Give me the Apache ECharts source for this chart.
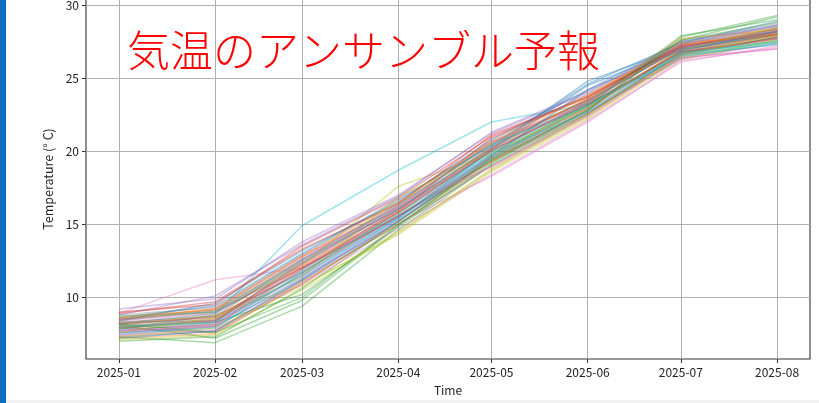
<!DOCTYPE html>
<html>
<head>
<meta charset="utf-8">
<script src="https://cdn.jsdelivr.net/npm/echarts@6/dist/echarts.min.js"></script>
<style>
  html, body { margin: 0; padding: 0; background: #ffffff; }
  #chart { width: 819px; height: 403px; }
</style>
</head>
<body>
<div id="chart"></div>
<script>
// Month labels of the forecast (first day of each month)
const months = ['2025-01', '2025-02', '2025-03', '2025-04', '2025-05', '2025-06', '2025-07', '2025-08'];
const yTicks = [10, 15, 20, 25, 30];

// Monthly mean temperature (°C) for each ensemble member, Jan..Aug
const m00 = [8.2, 8.9, 12.3, 16.1, 20.2, 24.8, 27.1, 28.3];
const m01 = [7.6, 8.1, 11.9, 15.8, 20.0, 23.4, 27.2, 28.1];
const m02 = [7.3, 6.9, 9.4, 14.6, 19.1, 22.6, 26.4, 27.6];
const m03 = [8.5, 9.2, 12.8, 16.2, 20.6, 23.5, 27.0, 28.2];
const m04 = [8.0, 8.4, 11.5, 15.5, 19.7, 23.0, 26.9, 28.0];
const m05 = [7.9, 7.6, 10.9, 15.2, 19.4, 22.8, 26.6, 27.7];
const m06 = [8.9, 11.2, 12.0, 15.6, 19.0, 22.4, 26.5, 27.3];
const m07 = [7.7, 8.3, 12.5, 16.0, 20.3, 23.6, 27.3, 28.4];
const m08 = [8.6, 9.0, 12.2, 17.6, 19.8, 23.1, 26.8, 28.0];
const m09 = [7.8, 8.8, 14.9, 18.7, 22.0, 23.2, 26.8, 27.5];
const m10 = [8.4, 9.6, 13.2, 16.5, 20.8, 24.2, 27.5, 28.6];
const m11 = [7.2, 7.5, 11.0, 15.0, 19.3, 22.9, 27.0, 27.9];
const m12 = [8.1, 7.2, 9.8, 14.9, 19.6, 23.3, 27.6, 29.2];
const m13 = [9.0, 9.5, 13.5, 16.8, 21.0, 23.8, 27.2, 28.2];
const m14 = [7.4, 8.0, 11.2, 15.3, 19.5, 22.7, 26.3, 27.4];
const m15 = [8.3, 8.7, 12.6, 16.4, 20.4, 23.5, 27.4, 28.5];
const m16 = [7.5, 8.2, 11.4, 15.1, 18.3, 22.0, 26.2, 27.1];
const m17 = [8.8, 9.3, 12.9, 16.6, 20.7, 23.9, 27.3, 28.3];
const m18 = [7.1, 7.4, 10.5, 14.4, 18.8, 22.3, 26.5, 27.6];
const m19 = [8.0, 8.5, 11.8, 15.7, 19.9, 23.1, 26.7, 27.8];
const m20 = [7.6, 8.0, 11.3, 15.4, 20.1, 24.5, 27.0, 28.0];
const m21 = [8.7, 9.1, 12.4, 16.3, 20.5, 23.4, 27.3, 28.1];
const m22 = [7.9, 8.3, 10.2, 14.8, 19.2, 22.8, 27.8, 29.3];
const m23 = [8.2, 8.6, 12.1, 15.9, 20.9, 23.7, 27.1, 28.4];
const m24 = [9.2, 9.9, 13.8, 17.0, 21.2, 24.0, 27.5, 28.7];
const m25 = [7.3, 7.7, 11.1, 15.0, 19.0, 22.5, 26.7, 27.8];
const m26 = [8.4, 8.9, 12.7, 16.2, 20.6, 23.3, 26.4, 27.0];
const m27 = [7.8, 8.1, 11.6, 15.6, 19.8, 23.0, 26.9, 28.0];
const m28 = [8.1, 8.8, 10.8, 14.3, 18.6, 22.2, 26.3, 27.5];
const m29 = [7.5, 7.9, 11.7, 15.8, 20.0, 23.2, 26.6, 27.3];
const m30 = [8.6, 9.4, 13.0, 16.7, 20.4, 24.6, 27.4, 28.9];
const m31 = [8.0, 8.5, 12.2, 15.9, 20.2, 23.6, 27.7, 28.3];
const m32 = [7.0, 7.3, 10.6, 15.2, 19.5, 23.1, 27.9, 29.0];
const m33 = [8.9, 9.7, 13.3, 16.4, 21.1, 23.7, 27.2, 28.0];
const m34 = [7.7, 8.2, 11.9, 16.0, 20.0, 23.4, 27.1, 28.2];
const m35 = [8.5, 9.0, 12.0, 15.5, 19.6, 22.9, 26.8, 27.9];
const m36 = [7.4, 7.8, 10.9, 14.7, 18.4, 22.1, 26.1, 27.2];
const m37 = [8.3, 8.4, 12.3, 16.1, 20.3, 23.5, 27.0, 28.1];
const m38 = [7.6, 8.6, 11.4, 16.9, 19.9, 23.0, 26.9, 28.5];
const m39 = [8.7, 9.0, 12.5, 16.3, 20.5, 23.1, 26.5, 27.4];
const m40 = [7.2, 7.7, 11.2, 15.2, 19.7, 24.2, 26.9, 28.2];
const m41 = [8.6, 9.2, 12.8, 16.5, 20.6, 23.8, 27.4, 28.0];
const m42 = [8.2, 7.6, 10.0, 15.0, 19.4, 22.8, 27.6, 28.8];
const m43 = [7.9, 8.4, 12.0, 15.8, 20.1, 23.2, 26.8, 27.7];
const m44 = [8.8, 10.1, 13.6, 16.9, 21.3, 24.1, 27.3, 28.6];
const m45 = [8.1, 8.7, 11.7, 15.6, 19.3, 22.6, 26.6, 27.8];
const m46 = [7.7, 8.0, 12.4, 16.2, 18.9, 22.4, 26.4, 27.0];
const m47 = [8.4, 9.1, 12.6, 16.0, 20.2, 23.3, 27.1, 28.2];
const m48 = [7.3, 7.9, 10.7, 14.5, 18.7, 22.5, 26.6, 27.9];
const m49 = [8.0, 8.3, 11.5, 15.4, 19.8, 22.7, 26.7, 27.5];

const members = [m00, m01, m02, m03, m04, m05, m06, m07, m08, m09,
                 m10, m11, m12, m13, m14, m15, m16, m17, m18, m19,
                 m20, m21, m22, m23, m24, m25, m26, m27, m28, m29,
                 m30, m31, m32, m33, m34, m35, m36, m37, m38, m39,
                 m40, m41, m42, m43, m44, m45, m46, m47, m48, m49];

const palette = ['#1f77b4', '#ff7f0e', '#2ca02c', '#d62728', '#9467bd',
                 '#8c564b', '#e377c2', '#7f7f7f', '#bcbd22', '#17becf'];

const monthTimes = months.map(m => {
  const [y, mo] = m.split('-').map(Number);
  return Date.UTC(y, mo - 1, 1);
});
const labelOf = {};
monthTimes.forEach((t, i) => { labelOf[t] = months[i]; });

// 5% padding on each side of the data span
const span = monthTimes[monthTimes.length - 1] - monthTimes[0];
const xMin = monthTimes[0] - span * 0.05;
const xMax = monthTimes[monthTimes.length - 1] + span * 0.05;
const allVals = members.flat();
const vMin = Math.min(...allVals), vMax = Math.max(...allVals);
const yMin = vMin - (vMax - vMin) * 0.05;
const yMax = vMax + (vMax - vMin) * 0.05;

const font = '"Noto Sans CJK JP", "Noto Sans", sans-serif';

const series = members.map((vals, i) => ({
  type: 'line',
  data: vals.map((v, j) => [monthTimes[j], v]),
  symbol: 'none',
  silent: true,
  lineStyle: { color: palette[i % 10], width: 1.5, opacity: 0.4 },
  z: 2
}));

const chart = echarts.init(document.getElementById('chart'), null, { renderer: 'canvas' });
chart.setOption({
  animation: false,
  backgroundColor: '#ffffff',
  grid: {
    left: 86, right: 9, top: -1, bottom: 44,
    outerBoundsMode: 'none',
    containLabel: false,
    show: true, borderColor: '#333333', borderWidth: 1.1, backgroundColor: 'transparent'
  },
  xAxis: {
    type: 'value',
    min: xMin, max: xMax,
    name: 'Time',
    nameLocation: 'middle',
    nameGap: 25,
    nameTextStyle: { fontFamily: font, fontSize: 12, color: '#222' },
    axisLine: { show: false },
    axisTick: { show: true, length: 4, customValues: monthTimes, lineStyle: { color: '#333' } },
    axisLabel: {
      customValues: monthTimes,
      margin: 7,
      fontFamily: font, fontSize: 12, color: '#222',
      formatter: v => labelOf[v] || ''
    },
    splitLine: { show: true, lineStyle: { color: '#b0b0b0', width: 1 } }
  },
  yAxis: {
    type: 'value',
    min: yMin, max: yMax,
    name: 'Temperature (° C)',
    nameLocation: 'middle',
    nameGap: 30,
    nameRotate: 90,
    nameTextStyle: { fontFamily: font, fontSize: 12.5, color: '#222' },
    axisLine: { show: false },
    axisTick: { show: true, length: 4, customValues: yTicks, lineStyle: { color: '#333' } },
    axisLabel: {
      customValues: yTicks,
      margin: 7,
      fontFamily: font, fontSize: 12, color: '#222'
    },
    splitLine: { show: true, lineStyle: { color: '#b0b0b0', width: 1 } }
  },
  graphic: [
    { type: 'rect', left: 0, top: 0, shape: { width: 6, height: 403 }, style: { fill: '#0a6fc2' }, z: 100 },
    { type: 'rect', left: 6, top: 400, shape: { width: 813, height: 3 }, style: { fill: '#f2f2f2' }, z: 100 },
    {
      type: 'text', left: 127, top: 29, z: 100,
      style: {
        text: '気温のアンサンブル予報',
        fill: '#ff0000',
        font: '300 43px "Noto Sans CJK JP", sans-serif'
      }
    }
  ],
  series: series
});
</script>
</body>
</html>
